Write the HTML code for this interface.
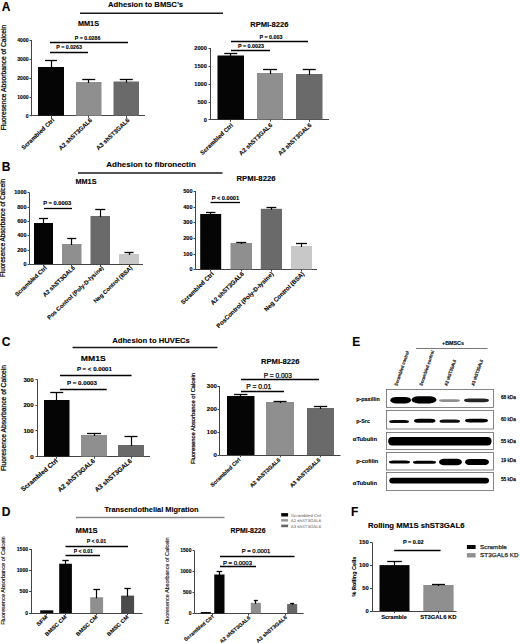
<!DOCTYPE html>
<html><head><meta charset="utf-8"><style>
html,body{margin:0;padding:0;background:#fff;}
body{width:520px;height:643px;overflow:hidden;}
svg{display:block;font-family:"Liberation Sans", sans-serif;}
text{stroke:#111;stroke-width:0.25px;paint-order:stroke;stroke-linejoin:round;}
text[font-weight]{stroke-width:0.12px;}
</style></head><body>
<svg width="520" height="643" viewBox="0 0 520 643">
<defs><filter id="bl" x="-20%" y="-60%" width="140%" height="220%"><feGaussianBlur stdDeviation="0.6"/></filter></defs>
<rect width="520" height="643" fill="#fff"/>
<text x="1.80" y="10.70" font-size="12" font-weight="bold" fill="#000">A</text>
<text x="108.00" y="6.90" font-size="7.9" font-weight="bold" textLength="75.00" lengthAdjust="spacingAndGlyphs">Adhesion to BMSC’s</text>
<line x1="80.00" y1="13.30" x2="223.00" y2="13.30" stroke="#1a1a1a" stroke-width="1.5"/>
<text x="6.00" y="77.50" font-size="6.6" text-anchor="middle" textLength="105.50" lengthAdjust="spacingAndGlyphs" transform="rotate(-90 6.00 77.50)">Fluoresence Absorbance of Calcein</text>
<text x="88.50" y="26.20" font-size="7" font-weight="bold" text-anchor="middle" textLength="21.00" lengthAdjust="spacingAndGlyphs">MM1S</text>
<line x1="31.50" y1="40.00" x2="31.50" y2="116.20" stroke="#444" stroke-width="1"/>
<line x1="31.50" y1="115.50" x2="145.00" y2="115.50" stroke="#444" stroke-width="1"/>
<line x1="29.50" y1="40.50" x2="31.50" y2="40.50" stroke="#444" stroke-width="1"/>
<text x="28.60" y="42.09" font-size="5.8" font-weight="bold" text-anchor="end" textLength="11.35" lengthAdjust="spacingAndGlyphs">4000</text>
<line x1="29.50" y1="59.50" x2="31.50" y2="59.50" stroke="#444" stroke-width="1"/>
<text x="28.60" y="61.09" font-size="5.8" font-weight="bold" text-anchor="end" textLength="11.35" lengthAdjust="spacingAndGlyphs">3000</text>
<line x1="29.50" y1="78.50" x2="31.50" y2="78.50" stroke="#444" stroke-width="1"/>
<text x="28.60" y="80.09" font-size="5.8" font-weight="bold" text-anchor="end" textLength="11.35" lengthAdjust="spacingAndGlyphs">2000</text>
<line x1="29.50" y1="97.50" x2="31.50" y2="97.50" stroke="#444" stroke-width="1"/>
<text x="28.60" y="99.09" font-size="5.8" font-weight="bold" text-anchor="end" textLength="11.35" lengthAdjust="spacingAndGlyphs">1000</text>
<line x1="29.50" y1="115.50" x2="31.50" y2="115.50" stroke="#444" stroke-width="1"/>
<text x="28.60" y="117.79" font-size="5.8" font-weight="bold" text-anchor="end" textLength="2.84" lengthAdjust="spacingAndGlyphs">0</text>
<rect x="38.00" y="67.00" width="26.00" height="48.70" fill="#050505"/>
<line x1="51.50" y1="115.70" x2="51.50" y2="117.90" stroke="#444" stroke-width="1"/>
<line x1="51.50" y1="60.60" x2="51.50" y2="68.00" stroke="#050505" stroke-width="1.2"/>
<line x1="45.00" y1="60.50" x2="57.00" y2="60.50" stroke="#050505" stroke-width="1.3"/>
<rect x="76.00" y="82.00" width="25.50" height="33.70" fill="#8f8f8f"/>
<line x1="88.50" y1="115.70" x2="88.50" y2="117.90" stroke="#444" stroke-width="1"/>
<line x1="88.50" y1="79.50" x2="88.50" y2="83.00" stroke="#050505" stroke-width="1.2"/>
<line x1="82.25" y1="79.50" x2="95.25" y2="79.50" stroke="#050505" stroke-width="1.3"/>
<rect x="113.50" y="81.50" width="25.50" height="34.20" fill="#6a6a6a"/>
<line x1="126.50" y1="115.70" x2="126.50" y2="117.90" stroke="#444" stroke-width="1"/>
<line x1="126.50" y1="79.00" x2="126.50" y2="82.50" stroke="#050505" stroke-width="1.2"/>
<line x1="119.75" y1="79.50" x2="132.75" y2="79.50" stroke="#050505" stroke-width="1.3"/>
<line x1="50.00" y1="42.50" x2="128.00" y2="42.50" stroke="#000" stroke-width="1.3"/>
<text x="87.60" y="39.80" font-size="5" font-weight="bold" text-anchor="middle" textLength="25.60" lengthAdjust="spacingAndGlyphs">P = 0.0286</text>
<line x1="50.00" y1="52.50" x2="88.00" y2="52.50" stroke="#000" stroke-width="1.3"/>
<text x="69.10" y="49.40" font-size="5" font-weight="bold" text-anchor="middle" textLength="25.60" lengthAdjust="spacingAndGlyphs">P = 0.0263</text>
<text x="54.70" y="120.70" font-size="6" font-weight="bold" text-anchor="end" textLength="42.68" lengthAdjust="spacingAndGlyphs" transform="rotate(-43.5 54.70 120.70)">Scrambled Ctrl</text>
<text x="92.45" y="120.70" font-size="6" font-weight="bold" text-anchor="end" textLength="43.34" lengthAdjust="spacingAndGlyphs" transform="rotate(-43.5 92.45 120.70)">A2 shST3GAL6</text>
<text x="129.95" y="120.70" font-size="6" font-weight="bold" text-anchor="end" textLength="43.34" lengthAdjust="spacingAndGlyphs" transform="rotate(-43.5 129.95 120.70)">A3 shST3GAL6</text>
<text x="269.30" y="27.30" font-size="7.3" font-weight="bold" text-anchor="middle" textLength="38.20" lengthAdjust="spacingAndGlyphs">RPMI-8226</text>
<line x1="210.50" y1="48.00" x2="210.50" y2="120.00" stroke="#444" stroke-width="1"/>
<line x1="210.50" y1="119.50" x2="329.00" y2="119.50" stroke="#444" stroke-width="1"/>
<line x1="208.50" y1="48.50" x2="210.50" y2="48.50" stroke="#444" stroke-width="1"/>
<text x="206.80" y="50.02" font-size="5.6" font-weight="bold" text-anchor="end" textLength="12.46" lengthAdjust="spacingAndGlyphs">2000</text>
<line x1="208.50" y1="66.50" x2="210.50" y2="66.50" stroke="#444" stroke-width="1"/>
<text x="206.80" y="68.02" font-size="5.6" font-weight="bold" text-anchor="end" textLength="12.46" lengthAdjust="spacingAndGlyphs">1500</text>
<line x1="208.50" y1="84.50" x2="210.50" y2="84.50" stroke="#444" stroke-width="1"/>
<text x="206.80" y="86.02" font-size="5.6" font-weight="bold" text-anchor="end" textLength="12.46" lengthAdjust="spacingAndGlyphs">1000</text>
<line x1="208.50" y1="102.50" x2="210.50" y2="102.50" stroke="#444" stroke-width="1"/>
<text x="206.80" y="104.02" font-size="5.6" font-weight="bold" text-anchor="end" textLength="9.34" lengthAdjust="spacingAndGlyphs">500</text>
<line x1="208.50" y1="119.50" x2="210.50" y2="119.50" stroke="#444" stroke-width="1"/>
<text x="206.80" y="121.52" font-size="5.6" font-weight="bold" text-anchor="end" textLength="3.11" lengthAdjust="spacingAndGlyphs">0</text>
<rect x="217.50" y="55.50" width="26.50" height="64.00" fill="#050505"/>
<line x1="230.50" y1="119.50" x2="230.50" y2="121.70" stroke="#444" stroke-width="1"/>
<line x1="230.50" y1="53.10" x2="230.50" y2="56.50" stroke="#050505" stroke-width="1.2"/>
<line x1="224.25" y1="53.50" x2="237.25" y2="53.50" stroke="#050505" stroke-width="1.3"/>
<rect x="257.00" y="73.00" width="26.00" height="46.50" fill="#8f8f8f"/>
<line x1="270.50" y1="119.50" x2="270.50" y2="121.70" stroke="#444" stroke-width="1"/>
<line x1="270.50" y1="69.50" x2="270.50" y2="74.00" stroke="#050505" stroke-width="1.2"/>
<line x1="263.00" y1="69.50" x2="277.00" y2="69.50" stroke="#050505" stroke-width="1.3"/>
<rect x="296.00" y="74.00" width="26.50" height="45.50" fill="#6a6a6a"/>
<line x1="309.50" y1="119.50" x2="309.50" y2="121.70" stroke="#444" stroke-width="1"/>
<line x1="309.50" y1="69.50" x2="309.50" y2="75.00" stroke="#050505" stroke-width="1.2"/>
<line x1="302.75" y1="69.50" x2="315.75" y2="69.50" stroke="#050505" stroke-width="1.3"/>
<line x1="231.00" y1="41.50" x2="308.00" y2="41.50" stroke="#000" stroke-width="1.3"/>
<text x="271.00" y="39.30" font-size="5" font-weight="bold" text-anchor="middle" textLength="23.00" lengthAdjust="spacingAndGlyphs">P = 0.003</text>
<line x1="231.00" y1="50.50" x2="270.00" y2="50.50" stroke="#000" stroke-width="1.3"/>
<text x="251.00" y="48.00" font-size="5" font-weight="bold" text-anchor="middle" textLength="26.00" lengthAdjust="spacingAndGlyphs">P = 0.0023</text>
<text x="233.45" y="125.80" font-size="6" font-weight="bold" text-anchor="end" textLength="42.68" lengthAdjust="spacingAndGlyphs" transform="rotate(-43.5 233.45 125.80)">Scrambled Ctrl</text>
<text x="272.70" y="125.80" font-size="6" font-weight="bold" text-anchor="end" textLength="43.34" lengthAdjust="spacingAndGlyphs" transform="rotate(-43.5 272.70 125.80)">A2 shST3GAL6</text>
<text x="311.95" y="125.80" font-size="6" font-weight="bold" text-anchor="end" textLength="43.34" lengthAdjust="spacingAndGlyphs" transform="rotate(-43.5 311.95 125.80)">A3 shST3GAL6</text>
<text x="1.80" y="171.30" font-size="12" font-weight="bold" fill="#000">B</text>
<text x="106.30" y="166.50" font-size="7.9" font-weight="bold" textLength="89.50" lengthAdjust="spacingAndGlyphs">Adhesion to fibronectin</text>
<line x1="78.00" y1="172.90" x2="222.50" y2="172.90" stroke="#1a1a1a" stroke-width="1.5"/>
<text x="5.10" y="228.00" font-size="6.4" text-anchor="middle" textLength="98.00" lengthAdjust="spacingAndGlyphs" transform="rotate(-90 5.10 228.00)">Fluoresence Absorbance of Calcein</text>
<text x="86.00" y="183.50" font-size="7" font-weight="bold" text-anchor="middle" textLength="21.00" lengthAdjust="spacingAndGlyphs">MM1S</text>
<line x1="29.50" y1="192.50" x2="29.50" y2="264.50" stroke="#444" stroke-width="1"/>
<line x1="29.50" y1="264.50" x2="143.00" y2="264.50" stroke="#444" stroke-width="1"/>
<line x1="27.50" y1="192.50" x2="29.50" y2="192.50" stroke="#444" stroke-width="1"/>
<text x="26.50" y="194.30" font-size="5.0" font-weight="bold" text-anchor="end" textLength="12.23" lengthAdjust="spacingAndGlyphs">1000</text>
<line x1="27.50" y1="207.50" x2="29.50" y2="207.50" stroke="#444" stroke-width="1"/>
<text x="26.50" y="208.80" font-size="5.0" font-weight="bold" text-anchor="end" textLength="9.18" lengthAdjust="spacingAndGlyphs">800</text>
<line x1="27.50" y1="221.50" x2="29.50" y2="221.50" stroke="#444" stroke-width="1"/>
<text x="26.50" y="223.10" font-size="5.0" font-weight="bold" text-anchor="end" textLength="9.18" lengthAdjust="spacingAndGlyphs">600</text>
<line x1="27.50" y1="235.50" x2="29.50" y2="235.50" stroke="#444" stroke-width="1"/>
<text x="26.50" y="237.40" font-size="5.0" font-weight="bold" text-anchor="end" textLength="9.18" lengthAdjust="spacingAndGlyphs">400</text>
<line x1="27.50" y1="250.50" x2="29.50" y2="250.50" stroke="#444" stroke-width="1"/>
<text x="26.50" y="251.80" font-size="5.0" font-weight="bold" text-anchor="end" textLength="9.18" lengthAdjust="spacingAndGlyphs">200</text>
<line x1="27.50" y1="264.50" x2="29.50" y2="264.50" stroke="#444" stroke-width="1"/>
<text x="26.50" y="265.80" font-size="5.0" font-weight="bold" text-anchor="end" textLength="3.06" lengthAdjust="spacingAndGlyphs">0</text>
<rect x="34.00" y="223.00" width="19.00" height="41.00" fill="#050505"/>
<line x1="43.50" y1="264.00" x2="43.50" y2="266.20" stroke="#444" stroke-width="1"/>
<line x1="43.50" y1="218.00" x2="43.50" y2="224.00" stroke="#050505" stroke-width="1.2"/>
<line x1="39.00" y1="218.50" x2="48.00" y2="218.50" stroke="#050505" stroke-width="1.3"/>
<rect x="62.00" y="244.00" width="19.50" height="20.00" fill="#8f8f8f"/>
<line x1="71.50" y1="264.00" x2="71.50" y2="266.20" stroke="#444" stroke-width="1"/>
<line x1="71.50" y1="238.00" x2="71.50" y2="245.00" stroke="#050505" stroke-width="1.2"/>
<line x1="67.25" y1="238.50" x2="76.25" y2="238.50" stroke="#050505" stroke-width="1.3"/>
<rect x="90.50" y="216.00" width="19.50" height="48.00" fill="#6a6a6a"/>
<line x1="100.50" y1="264.00" x2="100.50" y2="266.20" stroke="#444" stroke-width="1"/>
<line x1="100.50" y1="209.00" x2="100.50" y2="217.00" stroke="#050505" stroke-width="1.2"/>
<line x1="95.25" y1="209.50" x2="105.25" y2="209.50" stroke="#050505" stroke-width="1.3"/>
<rect x="119.00" y="254.00" width="20.00" height="10.00" fill="#c8c8c8"/>
<line x1="129.50" y1="264.00" x2="129.50" y2="266.20" stroke="#444" stroke-width="1"/>
<line x1="129.50" y1="252.50" x2="129.50" y2="255.00" stroke="#050505" stroke-width="1.2"/>
<line x1="124.50" y1="252.50" x2="133.50" y2="252.50" stroke="#050505" stroke-width="1.3"/>
<line x1="44.00" y1="208.50" x2="72.00" y2="208.50" stroke="#000" stroke-width="1.3"/>
<text x="57.20" y="205.30" font-size="5" font-weight="bold" text-anchor="middle" textLength="28.00" lengthAdjust="spacingAndGlyphs">P = 0.0003</text>
<text x="47.20" y="268.30" font-size="5.8" font-weight="bold" text-anchor="end" textLength="41.26" lengthAdjust="spacingAndGlyphs" transform="rotate(-43.5 47.20 268.30)">Scrambled Ctrl</text>
<text x="75.45" y="268.30" font-size="5.8" font-weight="bold" text-anchor="end" textLength="41.90" lengthAdjust="spacingAndGlyphs" transform="rotate(-43.5 75.45 268.30)">A2 shST3GAL6</text>
<text x="103.95" y="268.30" font-size="5.8" font-weight="bold" text-anchor="end" textLength="75.08" lengthAdjust="spacingAndGlyphs" transform="rotate(-43.5 103.95 268.30)">Pos Control (Poly-D-lysine)</text>
<text x="132.70" y="268.30" font-size="5.8" font-weight="bold" text-anchor="end" textLength="50.90" lengthAdjust="spacingAndGlyphs" transform="rotate(-43.5 132.70 268.30)">Neg Control (BSA)</text>
<text x="256.00" y="181.00" font-size="7" font-weight="bold" text-anchor="middle" textLength="39.00" lengthAdjust="spacingAndGlyphs">RPMI-8226</text>
<line x1="195.50" y1="191.00" x2="195.50" y2="269.80" stroke="#444" stroke-width="1"/>
<line x1="195.50" y1="269.50" x2="317.00" y2="269.50" stroke="#444" stroke-width="1"/>
<line x1="193.50" y1="191.50" x2="195.50" y2="191.50" stroke="#444" stroke-width="1"/>
<text x="192.50" y="192.80" font-size="5.0" font-weight="bold" text-anchor="end" textLength="9.18" lengthAdjust="spacingAndGlyphs">500</text>
<line x1="193.50" y1="207.50" x2="195.50" y2="207.50" stroke="#444" stroke-width="1"/>
<text x="192.50" y="208.80" font-size="5.0" font-weight="bold" text-anchor="end" textLength="9.18" lengthAdjust="spacingAndGlyphs">400</text>
<line x1="193.50" y1="222.50" x2="195.50" y2="222.50" stroke="#444" stroke-width="1"/>
<text x="192.50" y="224.30" font-size="5.0" font-weight="bold" text-anchor="end" textLength="9.18" lengthAdjust="spacingAndGlyphs">300</text>
<line x1="193.50" y1="238.50" x2="195.50" y2="238.50" stroke="#444" stroke-width="1"/>
<text x="192.50" y="239.80" font-size="5.0" font-weight="bold" text-anchor="end" textLength="9.18" lengthAdjust="spacingAndGlyphs">200</text>
<line x1="193.50" y1="254.50" x2="195.50" y2="254.50" stroke="#444" stroke-width="1"/>
<text x="192.50" y="255.80" font-size="5.0" font-weight="bold" text-anchor="end" textLength="9.18" lengthAdjust="spacingAndGlyphs">100</text>
<line x1="193.50" y1="269.50" x2="195.50" y2="269.50" stroke="#444" stroke-width="1"/>
<text x="192.50" y="271.10" font-size="5.0" font-weight="bold" text-anchor="end" textLength="3.06" lengthAdjust="spacingAndGlyphs">0</text>
<rect x="200.20" y="214.00" width="21.00" height="55.30" fill="#050505"/>
<line x1="210.50" y1="269.30" x2="210.50" y2="271.50" stroke="#444" stroke-width="1"/>
<line x1="210.50" y1="212.00" x2="210.50" y2="215.00" stroke="#050505" stroke-width="1.2"/>
<line x1="206.00" y1="212.50" x2="215.40" y2="212.50" stroke="#050505" stroke-width="1.3"/>
<rect x="230.50" y="243.00" width="21.50" height="26.30" fill="#8f8f8f"/>
<line x1="241.50" y1="269.30" x2="241.50" y2="271.50" stroke="#444" stroke-width="1"/>
<line x1="241.50" y1="242.00" x2="241.50" y2="244.00" stroke="#050505" stroke-width="1.2"/>
<line x1="236.25" y1="242.50" x2="246.25" y2="242.50" stroke="#050505" stroke-width="1.3"/>
<rect x="260.80" y="208.80" width="21.20" height="60.50" fill="#6a6a6a"/>
<line x1="271.50" y1="269.30" x2="271.50" y2="271.50" stroke="#444" stroke-width="1"/>
<line x1="271.50" y1="207.90" x2="271.50" y2="209.80" stroke="#050505" stroke-width="1.2"/>
<line x1="266.50" y1="207.50" x2="276.30" y2="207.50" stroke="#050505" stroke-width="1.3"/>
<rect x="291.00" y="246.00" width="21.00" height="23.30" fill="#c8c8c8"/>
<line x1="301.50" y1="269.30" x2="301.50" y2="271.50" stroke="#444" stroke-width="1"/>
<line x1="301.50" y1="243.00" x2="301.50" y2="247.00" stroke="#050505" stroke-width="1.2"/>
<line x1="296.00" y1="243.50" x2="307.00" y2="243.50" stroke="#050505" stroke-width="1.3"/>
<line x1="210.50" y1="202.50" x2="240.00" y2="202.50" stroke="#000" stroke-width="1.3"/>
<text x="225.40" y="199.60" font-size="5" font-weight="bold" text-anchor="middle" textLength="27.50" lengthAdjust="spacingAndGlyphs">P &lt; 0.0001</text>
<text x="214.20" y="274.30" font-size="6.1" font-weight="bold" text-anchor="end" textLength="43.39" lengthAdjust="spacingAndGlyphs" transform="rotate(-44.5 214.20 274.30)">Scrambled Ctrl</text>
<text x="244.45" y="274.30" font-size="6.1" font-weight="bold" text-anchor="end" textLength="44.06" lengthAdjust="spacingAndGlyphs" transform="rotate(-44.5 244.45 274.30)">A2 shST3GAL6</text>
<text x="273.95" y="274.30" font-size="6.1" font-weight="bold" text-anchor="end" textLength="77.27" lengthAdjust="spacingAndGlyphs" transform="rotate(-44.5 273.95 274.30)">PosControl (Poly-D-lysine)</text>
<text x="304.70" y="274.30" font-size="6.1" font-weight="bold" text-anchor="end" textLength="53.54" lengthAdjust="spacingAndGlyphs" transform="rotate(-44.5 304.70 274.30)">Neg Control (BSA)</text>
<text x="1.80" y="346.30" font-size="12" font-weight="bold" fill="#000">C</text>
<text x="112.20" y="342.80" font-size="7.6" font-weight="bold" textLength="77.70" lengthAdjust="spacingAndGlyphs">Adhesion to HUVECs</text>
<line x1="72.50" y1="347.40" x2="217.50" y2="347.40" stroke="#1a1a1a" stroke-width="1.5"/>
<text x="5.60" y="418.00" font-size="6.6" text-anchor="middle" textLength="106.00" lengthAdjust="spacingAndGlyphs" transform="rotate(-90 5.60 418.00)">Fluoresence Absorbance of Calcein</text>
<text x="93.30" y="360.60" font-size="7.6" font-weight="bold" text-anchor="middle" textLength="25.00" lengthAdjust="spacingAndGlyphs">MM1S</text>
<line x1="37.50" y1="379.50" x2="37.50" y2="457.00" stroke="#444" stroke-width="1"/>
<line x1="37.50" y1="456.50" x2="150.00" y2="456.50" stroke="#444" stroke-width="1"/>
<line x1="35.50" y1="379.50" x2="37.50" y2="379.50" stroke="#444" stroke-width="1"/>
<text x="33.70" y="381.52" font-size="5.6" font-weight="bold" text-anchor="end" textLength="10.28" lengthAdjust="spacingAndGlyphs">300</text>
<line x1="35.50" y1="405.50" x2="37.50" y2="405.50" stroke="#444" stroke-width="1"/>
<text x="33.70" y="407.22" font-size="5.6" font-weight="bold" text-anchor="end" textLength="10.28" lengthAdjust="spacingAndGlyphs">200</text>
<line x1="35.50" y1="430.50" x2="37.50" y2="430.50" stroke="#444" stroke-width="1"/>
<text x="33.70" y="432.82" font-size="5.6" font-weight="bold" text-anchor="end" textLength="10.28" lengthAdjust="spacingAndGlyphs">100</text>
<line x1="35.50" y1="456.50" x2="37.50" y2="456.50" stroke="#444" stroke-width="1"/>
<text x="33.70" y="458.52" font-size="5.6" font-weight="bold" text-anchor="end" textLength="3.43" lengthAdjust="spacingAndGlyphs">0</text>
<rect x="44.00" y="400.00" width="25.50" height="56.50" fill="#050505"/>
<line x1="56.50" y1="456.50" x2="56.50" y2="458.70" stroke="#444" stroke-width="1"/>
<line x1="56.50" y1="392.50" x2="56.50" y2="401.00" stroke="#050505" stroke-width="1.2"/>
<line x1="50.25" y1="392.50" x2="63.25" y2="392.50" stroke="#050505" stroke-width="1.3"/>
<rect x="81.00" y="435.00" width="26.00" height="21.50" fill="#8f8f8f"/>
<line x1="94.50" y1="456.50" x2="94.50" y2="458.70" stroke="#444" stroke-width="1"/>
<line x1="94.50" y1="433.00" x2="94.50" y2="436.00" stroke="#050505" stroke-width="1.2"/>
<line x1="87.00" y1="433.50" x2="101.00" y2="433.50" stroke="#050505" stroke-width="1.3"/>
<rect x="118.00" y="445.00" width="26.00" height="11.50" fill="#6a6a6a"/>
<line x1="131.50" y1="456.50" x2="131.50" y2="458.70" stroke="#444" stroke-width="1"/>
<line x1="131.50" y1="436.00" x2="131.50" y2="446.00" stroke="#050505" stroke-width="1.2"/>
<line x1="124.50" y1="436.50" x2="137.50" y2="436.50" stroke="#050505" stroke-width="1.3"/>
<line x1="60.00" y1="375.50" x2="131.50" y2="375.50" stroke="#000" stroke-width="1.3"/>
<text x="94.40" y="371.20" font-size="5" font-weight="bold" text-anchor="middle" textLength="35.00" lengthAdjust="spacingAndGlyphs">P = &lt; 0.0001</text>
<line x1="60.00" y1="389.50" x2="106.70" y2="389.50" stroke="#000" stroke-width="1.3"/>
<text x="82.00" y="384.70" font-size="5" font-weight="bold" text-anchor="middle" textLength="30.00" lengthAdjust="spacingAndGlyphs">P = 0.0003</text>
<text x="58.25" y="461.50" font-size="6.5" font-weight="bold" text-anchor="end" textLength="46.24" lengthAdjust="spacingAndGlyphs" transform="rotate(-41 58.25 461.50)">Scrambled Ctrl</text>
<text x="95.50" y="461.50" font-size="6.5" font-weight="bold" text-anchor="end" textLength="46.95" lengthAdjust="spacingAndGlyphs" transform="rotate(-41 95.50 461.50)">A2 shST3GAL6</text>
<text x="132.50" y="461.50" font-size="6.5" font-weight="bold" text-anchor="end" textLength="46.95" lengthAdjust="spacingAndGlyphs" transform="rotate(-41 132.50 461.50)">A3 shST3GAL6</text>
<text x="195.20" y="418.60" font-size="6.0" text-anchor="middle" textLength="91.00" lengthAdjust="spacingAndGlyphs" transform="rotate(-90 195.20 418.60)">Fluoresence Absorbance of Calcein</text>
<text x="280.30" y="363.50" font-size="7.3" font-weight="bold" text-anchor="middle" textLength="38.50" lengthAdjust="spacingAndGlyphs">RPMI-8226</text>
<line x1="219.50" y1="386.00" x2="219.50" y2="455.50" stroke="#444" stroke-width="1"/>
<line x1="219.50" y1="455.50" x2="340.50" y2="455.50" stroke="#444" stroke-width="1"/>
<line x1="217.50" y1="386.50" x2="219.50" y2="386.50" stroke="#444" stroke-width="1"/>
<text x="216.90" y="387.98" font-size="5.5" font-weight="bold" text-anchor="end" textLength="10.09" lengthAdjust="spacingAndGlyphs">300</text>
<line x1="217.50" y1="409.50" x2="219.50" y2="409.50" stroke="#444" stroke-width="1"/>
<text x="216.90" y="410.98" font-size="5.5" font-weight="bold" text-anchor="end" textLength="10.09" lengthAdjust="spacingAndGlyphs">200</text>
<line x1="217.50" y1="432.50" x2="219.50" y2="432.50" stroke="#444" stroke-width="1"/>
<text x="216.90" y="433.98" font-size="5.5" font-weight="bold" text-anchor="end" textLength="10.09" lengthAdjust="spacingAndGlyphs">100</text>
<line x1="217.50" y1="455.50" x2="219.50" y2="455.50" stroke="#444" stroke-width="1"/>
<text x="216.90" y="456.98" font-size="5.5" font-weight="bold" text-anchor="end" textLength="3.36" lengthAdjust="spacingAndGlyphs">0</text>
<rect x="227.00" y="396.00" width="27.50" height="59.00" fill="#050505"/>
<line x1="240.50" y1="455.00" x2="240.50" y2="457.20" stroke="#444" stroke-width="1"/>
<line x1="240.50" y1="394.00" x2="240.50" y2="397.00" stroke="#050505" stroke-width="1.2"/>
<line x1="234.05" y1="394.50" x2="247.45" y2="394.50" stroke="#050505" stroke-width="1.3"/>
<rect x="266.00" y="402.00" width="28.00" height="53.00" fill="#8f8f8f"/>
<line x1="280.50" y1="455.00" x2="280.50" y2="457.20" stroke="#444" stroke-width="1"/>
<line x1="280.50" y1="401.00" x2="280.50" y2="403.00" stroke="#050505" stroke-width="1.2"/>
<line x1="273.50" y1="401.50" x2="286.50" y2="401.50" stroke="#050505" stroke-width="1.3"/>
<rect x="307.00" y="408.00" width="27.00" height="47.00" fill="#6a6a6a"/>
<line x1="320.50" y1="455.00" x2="320.50" y2="457.20" stroke="#444" stroke-width="1"/>
<line x1="320.50" y1="406.00" x2="320.50" y2="409.00" stroke="#050505" stroke-width="1.2"/>
<line x1="313.80" y1="406.50" x2="327.20" y2="406.50" stroke="#050505" stroke-width="1.3"/>
<line x1="241.00" y1="379.50" x2="319.00" y2="379.50" stroke="#000" stroke-width="1.3"/>
<text x="277.80" y="377.90" font-size="6.5" text-anchor="middle" textLength="28.20" lengthAdjust="spacingAndGlyphs">P = 0.003</text>
<line x1="241.00" y1="391.50" x2="284.00" y2="391.50" stroke="#000" stroke-width="1.3"/>
<text x="246.30" y="388.50" font-size="6.3" textLength="25.00" lengthAdjust="spacingAndGlyphs">P = 0.01</text>
<text x="240.95" y="460.30" font-size="5.5" font-weight="bold" text-anchor="end" textLength="39.12" lengthAdjust="spacingAndGlyphs" transform="rotate(-43.5 240.95 460.30)">Scrambled Ctrl</text>
<text x="280.70" y="460.30" font-size="5.5" font-weight="bold" text-anchor="end" textLength="39.73" lengthAdjust="spacingAndGlyphs" transform="rotate(-43.5 280.70 460.30)">A2 shST3GAL6</text>
<text x="320.70" y="460.30" font-size="5.5" font-weight="bold" text-anchor="end" textLength="39.73" lengthAdjust="spacingAndGlyphs" transform="rotate(-43.5 320.70 460.30)">A3 shST3GAL6</text>
<text x="352.30" y="346.20" font-size="12" font-weight="bold" fill="#000">E</text>
<text x="453.00" y="344.90" font-size="6.2" font-weight="bold" text-anchor="middle" textLength="22.00" lengthAdjust="spacingAndGlyphs">+BMSCs</text>
<line x1="416.00" y1="348.50" x2="487.50" y2="348.50" stroke="#777" stroke-width="1"/>
<text x="397.30" y="386.20" font-size="4.7" font-weight="bold" textLength="36.50" lengthAdjust="spacingAndGlyphs" transform="rotate(-71 397.30 386.20)">Scrambled control</text>
<text x="422.30" y="386.20" font-size="4.7" font-weight="bold" textLength="37.00" lengthAdjust="spacingAndGlyphs" transform="rotate(-71 422.30 386.20)">Scrambled control</text>
<text x="447.30" y="386.20" font-size="4.7" font-weight="bold" textLength="27.50" lengthAdjust="spacingAndGlyphs" transform="rotate(-71 447.30 386.20)">A2 shST3GAL6</text>
<text x="474.20" y="386.20" font-size="4.7" font-weight="bold" textLength="27.50" lengthAdjust="spacingAndGlyphs" transform="rotate(-71 474.20 386.20)">A3 shST3GAL6</text>
<text x="356.30" y="401.40" font-size="5.6" font-weight="bold" textLength="23.50" lengthAdjust="spacingAndGlyphs">p-paxillin</text>
<rect x="386.5" y="389.50" width="107" height="18.00" fill="#fff" stroke="#666" stroke-width="0.8"/>
<text x="500.90" y="399.20" font-size="5.0" textLength="15.00" lengthAdjust="spacingAndGlyphs">68 kDa</text>
<text x="356.30" y="422.50" font-size="5.6" font-weight="bold" textLength="13.60" lengthAdjust="spacingAndGlyphs">p-Src</text>
<rect x="386.5" y="410.50" width="107" height="18.50" fill="#fff" stroke="#666" stroke-width="0.8"/>
<text x="500.90" y="420.90" font-size="5.0" textLength="15.00" lengthAdjust="spacingAndGlyphs">60 kDa</text>
<text x="352.80" y="441.40" font-size="5.6" font-weight="bold" textLength="24.20" lengthAdjust="spacingAndGlyphs">αTubulin</text>
<rect x="386.5" y="432.50" width="107" height="17.00" fill="#fff" stroke="#666" stroke-width="0.8"/>
<text x="500.90" y="443.20" font-size="5.0" textLength="15.00" lengthAdjust="spacingAndGlyphs">55 kDa</text>
<text x="356.30" y="463.40" font-size="5.6" font-weight="bold" textLength="22.00" lengthAdjust="spacingAndGlyphs">p-cofilin</text>
<rect x="386.5" y="452.50" width="107" height="17.50" fill="#fff" stroke="#666" stroke-width="0.8"/>
<text x="500.90" y="462.00" font-size="5.0" textLength="15.00" lengthAdjust="spacingAndGlyphs">19 kDa</text>
<text x="352.80" y="485.40" font-size="5.6" font-weight="bold" textLength="24.20" lengthAdjust="spacingAndGlyphs">αTubulin</text>
<rect x="386.5" y="472.50" width="107" height="18.00" fill="#fff" stroke="#666" stroke-width="0.8"/>
<text x="500.90" y="481.20" font-size="5.0" textLength="15.00" lengthAdjust="spacingAndGlyphs">55 kDa</text>
<rect x="390.30" y="396.90" width="20.70" height="6.60" rx="6.00" ry="3.30" fill="#000" fill-opacity="1" filter="url(#bl)"/>
<rect x="411.50" y="396.20" width="25.00" height="7.20" rx="7.00" ry="3.60" fill="#000" fill-opacity="1" filter="url(#bl)"/>
<rect x="439.00" y="399.20" width="21.00" height="2.80" rx="4.00" ry="1.40" fill="#000" fill-opacity="0.45" filter="url(#bl)"/>
<rect x="464.00" y="398.40" width="25.00" height="3.80" rx="5.00" ry="1.90" fill="#000" fill-opacity="0.85" filter="url(#bl)"/>
<rect x="389.20" y="420.10" width="19.80" height="3.00" rx="4.00" ry="1.50" fill="#000" fill-opacity="0.95" filter="url(#bl)"/>
<rect x="414.00" y="418.80" width="21.50" height="4.00" rx="5.00" ry="2.00" fill="#000" fill-opacity="1" filter="url(#bl)"/>
<rect x="439.50" y="419.60" width="20.50" height="3.20" rx="4.00" ry="1.60" fill="#000" fill-opacity="0.95" filter="url(#bl)"/>
<rect x="465.00" y="418.70" width="23.00" height="3.80" rx="5.00" ry="1.90" fill="#000" fill-opacity="1" filter="url(#bl)"/>
<rect x="388.20" y="437.00" width="103.30" height="8.40" rx="4.00" ry="4.20" fill="#000" fill-opacity="1" filter="url(#bl)"/>
<rect x="389.00" y="460.50" width="21.00" height="3.00" rx="4.00" ry="1.50" fill="#000" fill-opacity="1" filter="url(#bl)"/>
<rect x="413.00" y="460.80" width="23.00" height="3.00" rx="4.00" ry="1.50" fill="#000" fill-opacity="1" filter="url(#bl)"/>
<rect x="439.00" y="458.80" width="23.00" height="6.40" rx="5.00" ry="3.20" fill="#000" fill-opacity="1" filter="url(#bl)"/>
<rect x="465.00" y="458.90" width="24.00" height="6.20" rx="5.00" ry="3.10" fill="#000" fill-opacity="1" filter="url(#bl)"/>
<rect x="389.30" y="477.70" width="99.70" height="5.80" rx="3.00" ry="2.90" fill="#000" fill-opacity="1" filter="url(#bl)"/>
<text x="1.80" y="515.80" font-size="12" font-weight="bold" fill="#000">D</text>
<text x="104.50" y="512.30" font-size="7.4" font-weight="bold" textLength="94.10" lengthAdjust="spacingAndGlyphs">Transendothelial Migration</text>
<line x1="76.00" y1="517.60" x2="224.50" y2="517.60" stroke="#888" stroke-width="1.5"/>
<text x="5.40" y="580.60" font-size="5.5" text-anchor="middle" textLength="88.50" lengthAdjust="spacingAndGlyphs" transform="rotate(-90 5.40 580.60)" style="stroke-width:0.12px">Fluoresence Absorbance of Calcein</text>
<text x="86.60" y="532.70" font-size="6.9" font-weight="bold" text-anchor="middle" textLength="22.20" lengthAdjust="spacingAndGlyphs">MM1S</text>
<line x1="31.50" y1="549.00" x2="31.50" y2="613.50" stroke="#444" stroke-width="1"/>
<line x1="31.10" y1="613.50" x2="142.50" y2="613.50" stroke="#444" stroke-width="1"/>
<line x1="29.10" y1="549.50" x2="31.10" y2="549.50" stroke="#444" stroke-width="1"/>
<text x="28.00" y="550.73" font-size="4.8" font-weight="bold" text-anchor="end" textLength="11.21" lengthAdjust="spacingAndGlyphs">1500</text>
<line x1="29.10" y1="570.50" x2="31.10" y2="570.50" stroke="#444" stroke-width="1"/>
<text x="28.00" y="572.03" font-size="4.8" font-weight="bold" text-anchor="end" textLength="11.21" lengthAdjust="spacingAndGlyphs">1000</text>
<line x1="29.10" y1="591.50" x2="31.10" y2="591.50" stroke="#444" stroke-width="1"/>
<text x="28.00" y="593.33" font-size="4.8" font-weight="bold" text-anchor="end" textLength="8.41" lengthAdjust="spacingAndGlyphs">500</text>
<line x1="29.10" y1="613.50" x2="31.10" y2="613.50" stroke="#444" stroke-width="1"/>
<text x="28.00" y="614.73" font-size="4.8" font-weight="bold" text-anchor="end" textLength="2.80" lengthAdjust="spacingAndGlyphs">0</text>
<rect x="40.20" y="610.30" width="13.10" height="2.70" fill="#050505"/>
<line x1="46.50" y1="613.00" x2="46.50" y2="615.20" stroke="#444" stroke-width="1"/>
<rect x="59.20" y="563.75" width="12.70" height="49.25" fill="#050505"/>
<line x1="65.50" y1="613.00" x2="65.50" y2="615.20" stroke="#444" stroke-width="1"/>
<line x1="65.50" y1="560.75" x2="65.50" y2="564.75" stroke="#050505" stroke-width="1.2"/>
<line x1="62.35" y1="560.50" x2="68.75" y2="560.50" stroke="#050505" stroke-width="1.3"/>
<rect x="90.20" y="597.25" width="12.90" height="15.75" fill="#8f8f8f"/>
<line x1="96.50" y1="613.00" x2="96.50" y2="615.20" stroke="#444" stroke-width="1"/>
<line x1="96.50" y1="589.75" x2="96.50" y2="598.25" stroke="#050505" stroke-width="1.2"/>
<line x1="93.35" y1="589.50" x2="99.95" y2="589.50" stroke="#050505" stroke-width="1.3"/>
<rect x="121.10" y="595.60" width="13.00" height="17.40" fill="#4b4b4b"/>
<line x1="127.50" y1="613.00" x2="127.50" y2="615.20" stroke="#444" stroke-width="1"/>
<line x1="127.50" y1="588.50" x2="127.50" y2="596.60" stroke="#050505" stroke-width="1.2"/>
<line x1="124.40" y1="588.50" x2="130.80" y2="588.50" stroke="#050505" stroke-width="1.3"/>
<line x1="65.50" y1="546.50" x2="128.00" y2="546.50" stroke="#000" stroke-width="1.3"/>
<text x="96.50" y="542.70" font-size="4.8" font-weight="bold" text-anchor="middle" textLength="19.40" lengthAdjust="spacingAndGlyphs">P &lt; 0.01</text>
<line x1="65.50" y1="555.50" x2="100.00" y2="555.50" stroke="#000" stroke-width="1.3"/>
<text x="83.30" y="552.60" font-size="4.8" font-weight="bold" text-anchor="middle" textLength="19.20" lengthAdjust="spacingAndGlyphs">P &lt; 0.01</text>
<text x="47.95" y="617.50" font-size="5.4" font-weight="bold" text-anchor="end" textLength="13.00" lengthAdjust="spacingAndGlyphs" transform="rotate(-43.5 47.95 617.50)">SFM</text>
<text x="67.00" y="617.50" font-size="5.4" font-weight="bold" text-anchor="end" textLength="27.50" lengthAdjust="spacingAndGlyphs" transform="rotate(-43.5 67.00 617.50)">BMSC CM</text>
<text x="98.00" y="617.50" font-size="5.4" font-weight="bold" text-anchor="end" textLength="27.50" lengthAdjust="spacingAndGlyphs" transform="rotate(-43.5 98.00 617.50)">BMSC CM</text>
<text x="129.00" y="617.50" font-size="5.4" font-weight="bold" text-anchor="end" textLength="27.50" lengthAdjust="spacingAndGlyphs" transform="rotate(-43.5 129.00 617.50)">BMSC CM</text>
<text x="168.50" y="581.00" font-size="5.6" text-anchor="middle" textLength="87.00" lengthAdjust="spacingAndGlyphs" transform="rotate(-90 168.50 581.00)" style="stroke-width:0.1px">Fluoresence Absorbance of Calcein</text>
<text x="248.00" y="532.50" font-size="6.8" font-weight="bold" text-anchor="middle" textLength="35.00" lengthAdjust="spacingAndGlyphs">RPMI-8226</text>
<line x1="194.50" y1="550.75" x2="194.50" y2="613.90" stroke="#444" stroke-width="1"/>
<line x1="194.50" y1="613.50" x2="303.75" y2="613.50" stroke="#444" stroke-width="1"/>
<line x1="192.50" y1="550.50" x2="194.50" y2="550.50" stroke="#444" stroke-width="1"/>
<text x="191.50" y="552.41" font-size="4.6" font-weight="bold" text-anchor="end" textLength="11.26" lengthAdjust="spacingAndGlyphs">1500</text>
<line x1="192.50" y1="571.50" x2="194.50" y2="571.50" stroke="#444" stroke-width="1"/>
<text x="191.50" y="573.41" font-size="4.6" font-weight="bold" text-anchor="end" textLength="11.26" lengthAdjust="spacingAndGlyphs">1000</text>
<line x1="192.50" y1="592.50" x2="194.50" y2="592.50" stroke="#444" stroke-width="1"/>
<text x="191.50" y="594.16" font-size="4.6" font-weight="bold" text-anchor="end" textLength="8.44" lengthAdjust="spacingAndGlyphs">500</text>
<line x1="192.50" y1="613.50" x2="194.50" y2="613.50" stroke="#444" stroke-width="1"/>
<text x="191.50" y="615.06" font-size="4.6" font-weight="bold" text-anchor="end" textLength="2.81" lengthAdjust="spacingAndGlyphs">0</text>
<rect x="200.75" y="612.00" width="10.00" height="1.40" fill="#050505"/>
<rect x="214.25" y="574.50" width="10.25" height="38.90" fill="#050505"/>
<line x1="219.50" y1="571.75" x2="219.50" y2="575.50" stroke="#050505" stroke-width="1.2"/>
<line x1="216.57" y1="571.50" x2="222.18" y2="571.50" stroke="#050505" stroke-width="1.3"/>
<line x1="212.50" y1="613.40" x2="212.50" y2="615.60" stroke="#444" stroke-width="1"/>
<rect x="250.80" y="602.80" width="10.10" height="10.60" fill="#8f8f8f"/>
<line x1="255.50" y1="600.50" x2="255.50" y2="603.80" stroke="#050505" stroke-width="1.2"/>
<line x1="253.85" y1="600.50" x2="257.85" y2="600.50" stroke="#050505" stroke-width="1.3"/>
<line x1="248.50" y1="613.40" x2="248.50" y2="615.60" stroke="#444" stroke-width="1"/>
<rect x="287.10" y="604.10" width="10.10" height="9.30" fill="#666"/>
<line x1="292.50" y1="603.50" x2="292.50" y2="605.10" stroke="#050505" stroke-width="1.2"/>
<line x1="290.15" y1="603.50" x2="294.15" y2="603.50" stroke="#050505" stroke-width="1.3"/>
<line x1="285.50" y1="613.40" x2="285.50" y2="615.60" stroke="#444" stroke-width="1"/>
<line x1="220.00" y1="556.50" x2="294.50" y2="556.50" stroke="#000" stroke-width="1.3"/>
<text x="256.10" y="552.90" font-size="5.6" text-anchor="middle" textLength="28.60" lengthAdjust="spacingAndGlyphs">P = 0.0001</text>
<line x1="220.00" y1="566.50" x2="256.00" y2="566.50" stroke="#000" stroke-width="1.3"/>
<text x="237.50" y="564.50" font-size="5.6" text-anchor="middle" textLength="29.00" lengthAdjust="spacingAndGlyphs">P = 0.0003</text>
<text x="214.00" y="617.40" font-size="5.2" font-weight="bold" text-anchor="end" textLength="37.00" lengthAdjust="spacingAndGlyphs" transform="rotate(-40.5 214.00 617.40)">Scrambled Ctrl</text>
<text x="250.80" y="618.40" font-size="5.2" font-weight="bold" text-anchor="end" textLength="38.50" lengthAdjust="spacingAndGlyphs" transform="rotate(-40.5 250.80 618.40)">A2 shST3GAL6</text>
<text x="287.30" y="617.90" font-size="5.2" font-weight="bold" text-anchor="end" textLength="38.50" lengthAdjust="spacingAndGlyphs" transform="rotate(-40.5 287.30 617.90)">A3 shST3GAL6</text>
<rect x="281.20" y="513.10" width="6.90" height="3.40" fill="#050505"/>
<text transform="translate(290.8 516.80) scale(0.25)" font-size="16" fill="#555" style="stroke:none" text-rendering="geometricPrecision" textLength="121.2" lengthAdjust="spacingAndGlyphs">Scrambled Ctrl</text>
<rect x="281.20" y="519.10" width="6.90" height="2.50" fill="#999"/>
<text transform="translate(290.8 521.90) scale(0.25)" font-size="16" fill="#555" style="stroke:none" text-rendering="geometricPrecision" textLength="121.2" lengthAdjust="spacingAndGlyphs">A2 shST3GAL6</text>
<rect x="281.20" y="524.60" width="6.90" height="2.60" fill="#666"/>
<text transform="translate(290.8 527.50) scale(0.25)" font-size="16" fill="#555" style="stroke:none" text-rendering="geometricPrecision" textLength="121.2" lengthAdjust="spacingAndGlyphs">A3 shST3GAL6</text>
<text x="351.00" y="516.30" font-size="12" font-weight="bold" fill="#000">F</text>
<text x="416.20" y="527.60" font-size="6.6" font-weight="bold" text-anchor="middle" textLength="96.50" lengthAdjust="spacingAndGlyphs">Rolling MM1S shST3GAL6</text>
<text x="356.00" y="576.60" font-size="6.0" font-weight="bold" text-anchor="middle" textLength="39.80" lengthAdjust="spacingAndGlyphs" transform="rotate(-90 356.00 576.60)">% Rolling Cells</text>
<line x1="372.50" y1="542.30" x2="372.50" y2="611.60" stroke="#444" stroke-width="1"/>
<line x1="372.00" y1="611.50" x2="456.50" y2="611.50" stroke="#444" stroke-width="1"/>
<line x1="370.00" y1="542.50" x2="372.00" y2="542.50" stroke="#444" stroke-width="1"/>
<text x="368.80" y="544.21" font-size="5.3" font-weight="bold" text-anchor="end" textLength="9.73" lengthAdjust="spacingAndGlyphs">150</text>
<line x1="370.00" y1="565.50" x2="372.00" y2="565.50" stroke="#444" stroke-width="1"/>
<text x="368.80" y="567.01" font-size="5.3" font-weight="bold" text-anchor="end" textLength="9.73" lengthAdjust="spacingAndGlyphs">100</text>
<line x1="370.00" y1="588.50" x2="372.00" y2="588.50" stroke="#444" stroke-width="1"/>
<text x="368.80" y="590.01" font-size="5.3" font-weight="bold" text-anchor="end" textLength="6.48" lengthAdjust="spacingAndGlyphs">50</text>
<line x1="370.00" y1="611.50" x2="372.00" y2="611.50" stroke="#444" stroke-width="1"/>
<text x="368.80" y="613.01" font-size="5.3" font-weight="bold" text-anchor="end" textLength="3.24" lengthAdjust="spacingAndGlyphs">0</text>
<rect x="379.50" y="565.10" width="30.00" height="46.00" fill="#050505"/>
<line x1="394.50" y1="611.10" x2="394.50" y2="613.30" stroke="#444" stroke-width="1"/>
<line x1="394.50" y1="561.30" x2="394.50" y2="566.10" stroke="#050505" stroke-width="1.2"/>
<line x1="387.20" y1="561.50" x2="401.80" y2="561.50" stroke="#050505" stroke-width="1.3"/>
<rect x="423.30" y="585.00" width="30.30" height="26.10" fill="#8f8f8f"/>
<line x1="438.50" y1="611.10" x2="438.50" y2="613.30" stroke="#444" stroke-width="1"/>
<line x1="438.50" y1="584.50" x2="438.50" y2="586.00" stroke="#050505" stroke-width="1.2"/>
<line x1="431.95" y1="584.50" x2="444.95" y2="584.50" stroke="#050505" stroke-width="1.3"/>
<line x1="394.20" y1="550.50" x2="440.60" y2="550.50" stroke="#000" stroke-width="1.3"/>
<text x="413.30" y="543.50" font-size="5" font-weight="bold" text-anchor="middle" textLength="20.80" lengthAdjust="spacingAndGlyphs">P = 0.02</text>
<text x="394.00" y="618.70" font-size="5.4" font-weight="bold" text-anchor="middle" textLength="25.70" lengthAdjust="spacingAndGlyphs">Scramble</text>
<text x="438.30" y="618.70" font-size="5.4" font-weight="bold" text-anchor="middle" textLength="36.30" lengthAdjust="spacingAndGlyphs">ST3GAL6 KD</text>
<rect x="466.90" y="545.00" width="8.70" height="4.00" fill="#050505"/>
<text x="480.00" y="548.80" font-size="6.0" fill="#333" textLength="26.90" lengthAdjust="spacingAndGlyphs">Scramble</text>
<rect x="466.90" y="553.10" width="8.70" height="4.40" fill="#8f8f8f"/>
<text x="480.00" y="556.90" font-size="6.0" fill="#333" textLength="38.70" lengthAdjust="spacingAndGlyphs">ST3GAL6 KD</text>
</svg>
</body></html>
